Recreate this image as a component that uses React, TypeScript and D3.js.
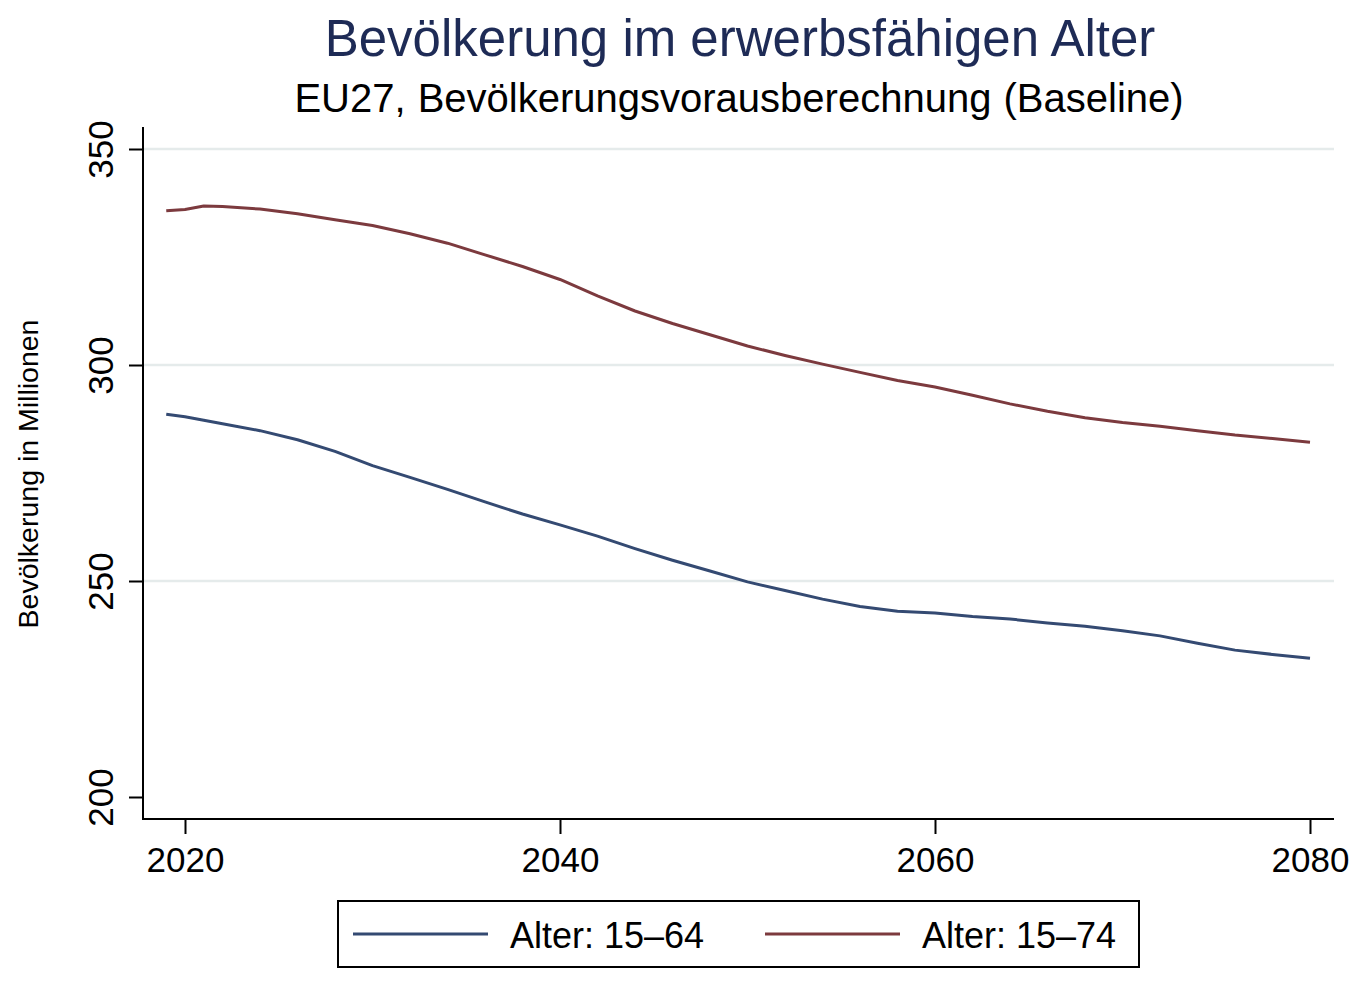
import React, { useRef, useEffect } from 'react';
import * as d3 from 'd3';

// Years
const years = [
	2019, 2020, 2021, 2022, 2024, 2026, 2028, 2030, 2032, 2034, 2036, 2038, 2040,
	2042, 2044, 2046, 2048, 2050, 2052, 2054, 2056, 2058, 2060, 2062, 2064, 2066,
	2068, 2070, 2072, 2074, 2076, 2078, 2080,
];

// Alter 15–64 (Mio.)
const age1564 = [
	288.6, 288.0, 287.2, 286.4, 284.8, 282.7, 280.0, 276.7, 274.0, 271.2, 268.3, 265.5, 263.0,
	260.4, 257.5, 254.8, 252.3, 249.8, 247.8, 245.8, 244.1, 243.0, 242.6, 241.8, 241.2, 240.3,
	239.5, 238.5, 237.3, 235.6, 234.0, 233.0, 232.1,
];

// Alter 15–74 (Mio.)
const age1574 = [
	335.7, 336.0, 336.8, 336.7, 336.1, 335.0, 333.6, 332.3, 330.4, 328.2, 325.5, 322.8, 319.8,
	316.0, 312.5, 309.6, 307.0, 304.4, 302.2, 300.2, 298.3, 296.4, 294.9, 293.0, 291.0, 289.3,
	287.8, 286.7, 285.8, 284.8, 283.8, 283.0, 282.1,
];

const xTicks = [2020, 2040, 2060, 2080];
const yTicks = [200, 250, 300, 350];
const gridTicks = [250, 300, 350];

const seriesNames = ['Alter: 15–64', 'Alter: 15–74'];
const seriesColors = ['#344a72', '#7c3a3e'];

const title = 'Bevölkerung im erwerbsfähigen Alter';
const subtitle = 'EU27, Bevölkerungsvorausberechnung (Baseline)';
const yTitle = 'Bevölkerung in Millionen';

const FONT = '"Liberation Sans", Arial, Helvetica, sans-serif';

type Point = { year: number; value: number };

export default function App() {
	const ref = useRef<SVGSVGElement | null>(null);

	useEffect(() => {
		if (!ref.current) return;
		const svg = d3.select(ref.current);
		svg.selectAll('*').remove();

		const width = 1370;
		const height = 984;

		svg.append('rect').attr('width', width).attr('height', height).attr('fill', '#ffffff');

		// plot region
		const left = 143;
		const right = 1334;
		const top = 127;
		const bottom = 819;

		const x = d3.scaleLinear().domain([2020, 2080]).range([185, 1310]);
		const y = d3.scaleLinear().domain([200, 350]).range([797, 149]);

		// titles
		svg.append('text')
			.attr('x', 740)
			.attr('y', 56)
			.attr('text-anchor', 'middle')
			.attr('font-family', FONT)
			.attr('font-size', 51)
			.attr('fill', '#1e2b56')
			.text(title);

		svg.append('text')
			.attr('x', 739)
			.attr('y', 112)
			.attr('text-anchor', 'middle')
			.attr('font-family', FONT)
			.attr('font-size', 40)
			.attr('fill', '#000')
			.attr('word-spacing', 1)
			.text(subtitle);

		// grid lines
		svg.append('g')
			.selectAll('line')
			.data(gridTicks)
			.join('line')
			.attr('x1', left)
			.attr('x2', right)
			.attr('y1', d => y(d))
			.attr('y2', d => y(d))
			.attr('stroke', '#e5ebeb')
			.attr('stroke-width', 2.5);

		// Y axis
		const yAxis = svg.append('g')
			.attr('transform', `translate(${left},0)`)
			.call(d3.axisLeft(y).tickValues(yTicks).tickSize(14).tickFormat(d3.format('d')));
		yAxis.select('.domain').remove();
		yAxis.selectAll('.tick line').attr('stroke', '#000').attr('stroke-width', 2);
		yAxis.selectAll('.tick text')
			.attr('font-family', FONT)
			.attr('font-size', 35)
			.attr('fill', '#000')
			.attr('text-anchor', 'middle')
			.attr('dy', 0)
			.attr('x', 0)
			.attr('transform', `translate(${113 - left},0) rotate(-90)`);

		// X axis
		const xAxis = svg.append('g')
			.attr('transform', `translate(0,${bottom})`)
			.call(d3.axisBottom(x).tickValues(xTicks).tickSize(15).tickFormat(d3.format('d')));
		xAxis.select('.domain').remove();
		xAxis.selectAll('.tick line').attr('stroke', '#000').attr('stroke-width', 2);
		xAxis.selectAll('.tick text')
			.attr('font-family', FONT)
			.attr('font-size', 35)
			.attr('fill', '#000')
			.attr('dy', 0)
			.attr('y', 53);

		// axis lines
		svg.append('line')
			.attr('x1', left).attr('x2', left)
			.attr('y1', top).attr('y2', bottom + 1)
			.attr('stroke', '#000').attr('stroke-width', 2);
		svg.append('line')
			.attr('x1', left).attr('x2', right)
			.attr('y1', bottom).attr('y2', bottom)
			.attr('stroke', '#000').attr('stroke-width', 2);

		// Y axis title
		svg.append('text')
			.attr('transform', `translate(38,474) rotate(-90)`)
			.attr('text-anchor', 'middle')
			.attr('font-family', FONT)
			.attr('font-size', 28.5)
			.attr('fill', '#000')
			.text(yTitle);

		// lines
		const line = d3.line<Point>()
			.x(d => x(d.year))
			.y(d => y(d.value));

		const series: Point[][] = [age1564, age1574].map(vals =>
			years.map((year, i) => ({ year, value: vals[i] }))
		);

		series.forEach((data, i) => {
			svg.append('path')
				.datum(data)
				.attr('fill', 'none')
				.attr('stroke', seriesColors[i])
				.attr('stroke-width', 3)
				.attr('stroke-linejoin', 'round')
				.attr('d', line);
		});

		// legend
		const legend = svg.append('g');
		legend.append('rect')
			.attr('x', 338)
			.attr('y', 901)
			.attr('width', 801)
			.attr('height', 66)
			.attr('fill', '#fff')
			.attr('stroke', '#000')
			.attr('stroke-width', 2);

		const legendX = [353, 765];
		seriesNames.forEach((name, i) => {
			legend.append('line')
				.attr('x1', legendX[i])
				.attr('x2', legendX[i] + 135)
				.attr('y1', 934)
				.attr('y2', 934)
				.attr('stroke', seriesColors[i])
				.attr('stroke-width', 3);
			legend.append('text')
				.attr('x', legendX[i] + 157)
				.attr('y', 948)
				.attr('font-family', FONT)
				.attr('font-size', 36)
				.attr('fill', '#000')
				.text(name);
		});
	}, []);

	return (
		<svg
			ref={ref}
			width={1370}
			height={984}
			style={{ position: 'absolute', left: 0, top: 0, display: 'block' }}
		/>
	);
}
